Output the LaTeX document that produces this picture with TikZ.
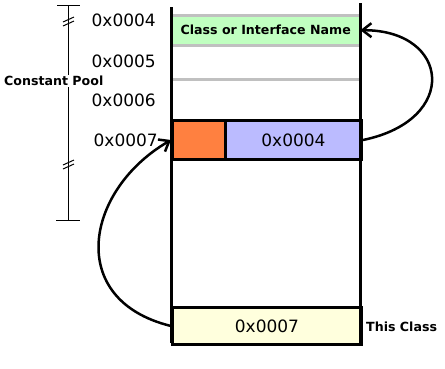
\documentclass[tikz,border=0pt]{standalone}
\usepackage{fontspec}
\setmainfont{DejaVu Sans}
\usetikzlibrary{arrows.meta}
\definecolor{cpgreen}{HTML}{C0FFC0}
\definecolor{cporange}{HTML}{FF8040}
\definecolor{cpblue}{HTML}{BBBBFF}
\definecolor{cpyellow}{HTML}{FFFFDD}
\definecolor{cpgray}{HTML}{C0C0C0}
\begin{document}
\begin{tikzpicture}[x=1pt,y=-1pt,
  addr/.style={font=\fontsize{17}{19}\selectfont, inner sep=0pt, anchor=east},
  blab/.style={font=\bfseries\fontsize{12.6}{14}\selectfont, inner sep=0pt},
  cell/.style={draw=black, line width=3pt, inner sep=0pt, anchor=north west},
  gline/.style={draw=cpgray, line width=3pt},
  wall/.style={line width=3pt},
  ptr/.style={line width=2.5pt, -{Straight Barb[length=9pt,width=14pt,line width=2.5pt]}},
  thin/.style={line width=1pt}]
\useasboundingbox (0,0) rectangle (445,368);
% green entry
\node[inner sep=0pt, anchor=north west, fill=cpgreen, minimum width=189pt, minimum height=30pt] (green) at (171,15) {};
\node[blab] (gname) at (green.center) {Class or Interface Name};
\draw[gline] (171,15) -- (360,15);
\draw[gline] (171,45) -- (360,45);
\draw[gline] (171,79) -- (360,79);
% orange / blue row
\node[cell, fill=cporange, minimum width=53pt, minimum height=39pt] (orange) at (171,119) {};
\node[cell, fill=cpblue, minimum width=136pt, minimum height=39pt, font=\fontsize{17}{19}\selectfont] (blue) at (224,119) {0x0004};
% yellow row
\node[cell, fill=cpyellow, minimum width=189pt, minimum height=37pt, font=\fontsize{17}{19}\selectfont] (yellow) at (171,306) {0x0007};
% walls
\draw[wall] (171,7) -- (171,343);
\draw[wall] (360,3) -- (360,343);
% addresses
\node[addr] (a4) at (156,20) {0x0004};
\node[addr] (a5) at (156,61) {0x0005};
\node[addr] (a6) at (156,100) {0x0006};
\node[addr] (a7) at (158,140) {0x0007};
\node[blab, anchor=west] (tc) at (366,327) {This Class};
% scale
\coordinate (st) at (68,5);
\coordinate (sb) at (68,220);
\draw[thin] (st) -- (sb);
\draw[thin] (57,5) -- (80,5);
\draw[thin] (56,220) -- (80,220);
\draw[thin] (63,22) -- (74,17);
\draw[thin] (63,26) -- (74,21);
\draw[thin] (63,165) -- (74,160);
\draw[thin] (63,169) -- (74,164);
\node[blab, anchor=west, fill=white, inner sep=1pt] (cp) at (3,81) {Constant Pool};
% pointers
\draw[ptr] (blue.east) .. controls (460,120) and (450,30) .. (green.east);
\draw[ptr] (yellow.west) .. controls (65,300) and (85,190) .. (orange.west);
\end{tikzpicture}
\end{document}
